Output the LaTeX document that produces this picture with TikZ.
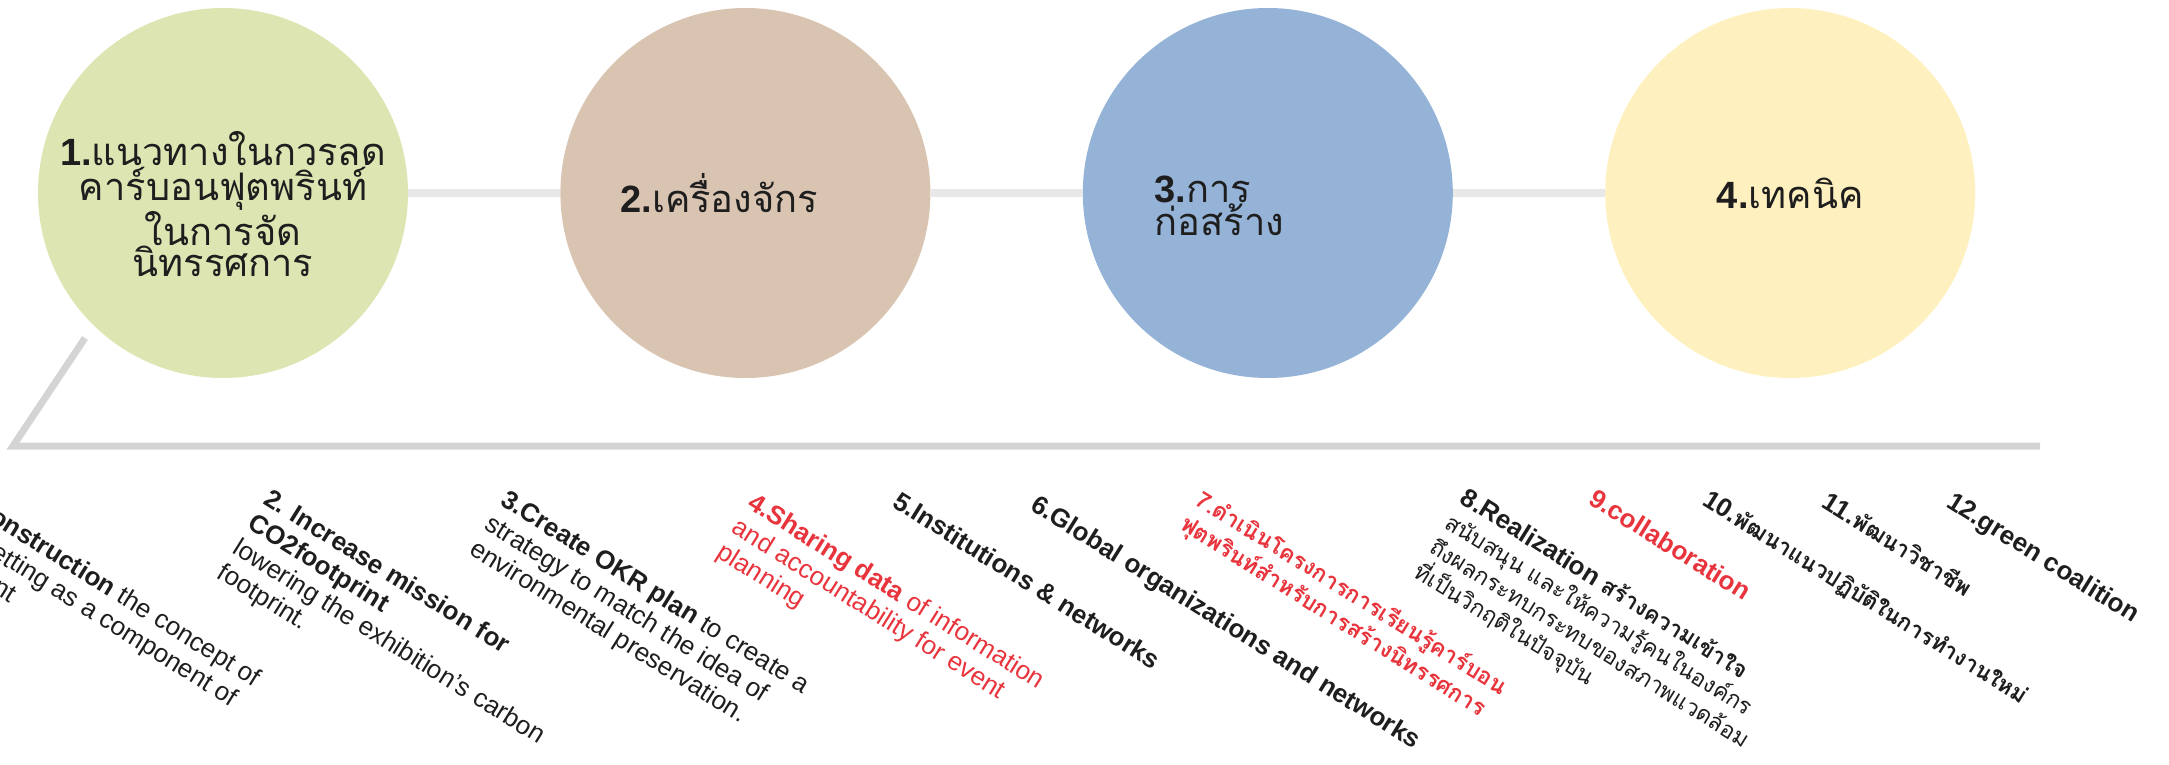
\documentclass[tikz,border=0pt]{standalone}
\usepackage{fontspec}
\setmainfont{Liberation Sans}
\newfontfamily\thai[Script=Thai]{Loma}
\newfontfamily\thainote[Script=Thai,Scale=0.88]{Loma}
\usetikzlibrary{positioning}
\definecolor{stagegreen}{RGB}{221,230,179}
\definecolor{stagetan}{RGB}{217,196,177}
\definecolor{stageblue}{RGB}{149,179,215}
\definecolor{stageyellow}{RGB}{255,241,191}
\definecolor{linkgray}{RGB}{232,232,232}
\definecolor{railgray}{RGB}{212,212,212}
\definecolor{ink}{RGB}{30,30,30}
\definecolor{hotred}{RGB}{232,52,60}
\tikzset{node distance=152pt, % gap between two stages
        stage/.style={ % the four big discs
            circle,
            minimum size=370pt,
            inner sep=0pt},
        caption/.style={ % text inside a disc
            inner sep=0pt,
            text=ink,
            font=\fontsize{38}{31}\selectfont},
        topic/.style={ % the slanted notes under the rail
            anchor=north west,
            rotate=-32,
            inner sep=0pt,
            align=left,
            text=ink,
            font=\fontsize{26}{29}\selectfont},
        hot/.style={topic, text=hotred},
        link/.style={draw=linkgray, line width=8pt},
        rail/.style={draw=railgray, line width=7pt, line join=miter}
        }

\begin{document}
\begin{tikzpicture}[x=1pt, y=-1pt]
    \useasboundingbox (0,0) rectangle (2169,765);

    \node[stage, fill=stagegreen] (c1) at (223,193) {};
    \node[stage, fill=stagetan] (c2) [right=of c1] {};
    \node[stage, fill=stageblue] (c3) [right=of c2] {};
    \node[stage, fill=stageyellow] (c4) [right=of c3] {};

    \node[caption, align=center] (n1) at ([yshift=-11pt]c1.center)
        {\textbf{1.}{\thai แนวทางในกวรลด}\\{\thai คาร์บอนฟุตพรินท์}\\{\thai ในการจัด}\\{\thai นิทรรศการ}};
    \node[caption, align=left, text width=250pt] (n2) at (c2)
        {\textbf{2.}{\thai เครื่องจักร}};
    \node[caption, align=left, text width=226pt] (n3) at ([yshift=-13pt]c3.center)
        {\textbf{3.}{\thai การ}\\{\thai ก่อสร้าง}};
    \node[caption, align=center] (n4) at (c4)
        {\textbf{4.}{\thai เทคนิค}};

    \draw[link] (c1) -- (c2);
    \draw[link] (c2) -- (c3);
    \draw[link] (c3) -- (c4);

    \coordinate (r1) at (85,338);
    \coordinate (r2) at (13,446);
    \coordinate (r3) at (2040,446);
    \draw[rail] (r1) -- (r2) -- (r3);

    % notes
    \node[topic] (t1) at (-2,505)
        {\textbf{onstruction} the concept of\\\hspace*{20pt}etting as a component of\\\hspace*{40pt}nt};
    \node[topic] (t2) at (272,487)
        {\textbf{2. Increase mission for}\\\textbf{CO2footprint}\\lowering the exhibition's carbon\\footprint.};
    \node[topic] (t3) at (509,488)
        {\textbf{3.Create OKR plan} to create a\\strategy to match the idea of\\environmental preservation.};
    \node[hot] (t4) at (756,491)
        {\textbf{4.Sharing data} of information\\and accountability for event\\planning};
    \node[topic] (t5) at (901,490) {\textbf{5.Institutions \& networks}};
    \node[topic] (t6) at (1039,493) {\textbf{6.Global organizations and networks}};
    \node[hot] (t7) at (1205,487)
        {{\thainote\bfseries 7.ดำเนินโครงการการเรียนรู้คาร์บอน}\\{\thainote\bfseries ฟุตพรินท์สำหรับการสร้างนิทรรศการ}};
    \node[topic] (t8) at (1469,486)
        {\textbf{8.Realization {\thainote สร้างความเข้าใจ}}\\{\thainote สนับสนุน และให้ความรู้คนในองค์กร}\\{\thainote ถึงผลกระทบกระทบของสภาพแวดล้อม}\\{\thainote ที่เป็นวิกฤติในปัจจุบัน}};
    \node[hot] (t9) at (1597,487) {\textbf{9.collaboration}};
    \node[topic] (t10) at (1711,488) {\textbf{10.}{\thainote\bfseries พัฒนาแนวปฏิบัติในการทำงานใหม่}};
    \node[topic] (t11) at (1831,490) {\textbf{11.}{\thainote\bfseries พัฒนาวิชาชีพ}};
    \node[topic] (t12) at (1955,490) {\textbf{12.green coalition}};
\end{tikzpicture}
\end{document}
